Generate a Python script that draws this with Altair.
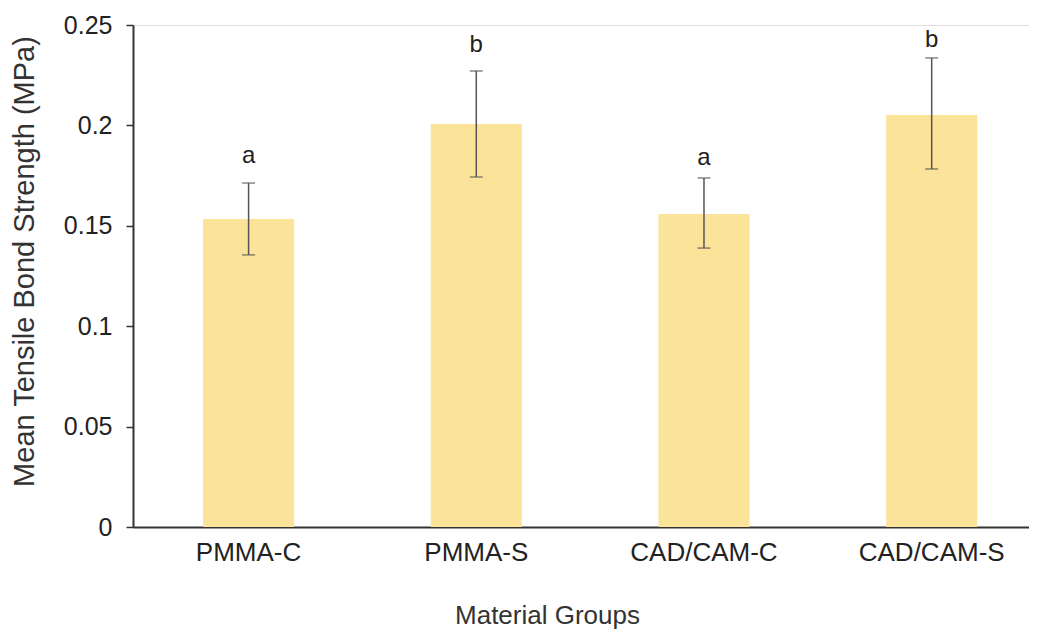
import altair as alt
import pandas as pd

groups = ["PMMA-C", "PMMA-S", "CAD/CAM-C", "CAD/CAM-S"]
means = [0.1534, 0.2007, 0.1559, 0.2052]
upper = [0.1713, 0.2271, 0.1738, 0.2336]
lower = [0.1355, 0.1743, 0.1389, 0.1783]
letters = ["a", "b", "a", "b"]
letter_y = [0.1848, 0.2400, 0.1838, 0.2425]
y_ticks = [0, 0.05, 0.1, 0.15, 0.2, 0.25]

df = pd.DataFrame({
    "group": groups, "mean": means, "upper": upper, "lower": lower,
    "letter": letters, "ly": letter_y,
})

FONT = "Liberation Sans"

xscale = alt.Scale(domain=groups, paddingInner=0.6, paddingOuter=0.2675, align=0.575)
yscale = alt.Scale(domain=[0, 0.25], nice=False, zero=True)

x = alt.X("group:N", scale=xscale, sort=groups,
          axis=alt.Axis(title="Material Groups", labelAngle=0, ticks=False,
                        labelFontSize=26, titleFontSize=26, labelPadding=12,
                        titleX=414, titleY=88, titleBaseline="middle",
                        labelColor="#222", titleColor="#333",
                        titleFontWeight="normal",
                        domainColor="#333", domainWidth=2, labelFont=FONT, titleFont=FONT))

bars = alt.Chart(df).mark_bar(color="#FCE39A").encode(
    x=x,
    y=alt.Y("mean:Q", scale=yscale,
            axis=alt.Axis(title="Mean Tensile Bond Strength (MPa)", values=y_ticks,
                          format="~g", grid=False, tickSize=7, tickColor="#333",
                          tickWidth=1.5, labelPadding=14, labelFontSize=25,
                          titleFontSize=29, titlePadding=24, titleY=236,
                          labelColor="#222",
                          titleColor="#333", titleFontWeight="normal",
                          domainColor="#333", domainWidth=2,
                          labelFont=FONT, titleFont=FONT)),
)

rules = alt.Chart(df).mark_rule(color="#555", strokeWidth=1.5).encode(
    x=alt.X("group:N", scale=xscale, sort=groups),
    y=alt.Y("lower:Q", scale=yscale),
    y2="upper:Q",
)

caps_hi = alt.Chart(df).mark_tick(color="#555", size=13, thickness=1.5).encode(
    x=alt.X("group:N", scale=xscale, sort=groups),
    y=alt.Y("upper:Q", scale=yscale),
)
caps_lo = alt.Chart(df).mark_tick(color="#555", size=13, thickness=1.5).encode(
    x=alt.X("group:N", scale=xscale, sort=groups),
    y=alt.Y("lower:Q", scale=yscale),
)

text = alt.Chart(df).mark_text(fontSize=24, font=FONT, color="#222", baseline="middle").encode(
    x=alt.X("group:N", scale=xscale, sort=groups),
    y=alt.Y("ly:Q", scale=yscale),
    text="letter:N",
)

chart = alt.layer(bars, rules, caps_hi, caps_lo, text).properties(
    width=896, height=502,
    autosize=alt.AutoSizeParams(type="none"),
    padding={"left": 125, "top": 17, "right": 0, "bottom": 110},
).configure_view(stroke=None).configure(background="white")

chart.save("out.html", embed_options={"renderer": "svg", "actions": False})
